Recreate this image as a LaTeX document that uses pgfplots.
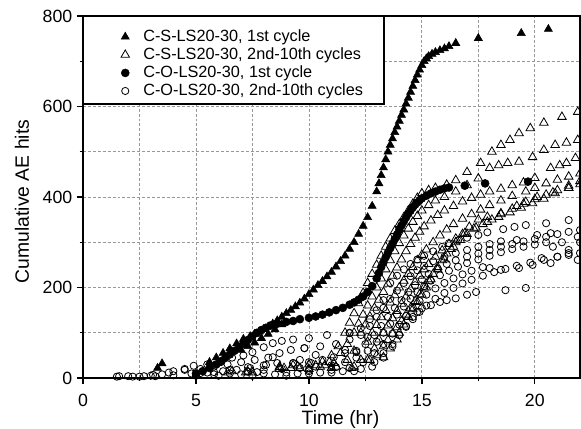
\documentclass[border=0pt]{standalone}
\usepackage{pgfplots}
\pgfplotsset{compat=1.18}
\usepackage{fontspec}
\setmainfont{Liberation Sans}
\newcommand{\tkfont}{\fontsize{13.3}{15}\selectfont}
\newcommand{\lbfont}{\fontsize{14.5}{17}\selectfont}
\newcommand{\lgfont}{\fontsize{12.2}{14}\selectfont}
\pgfplotsset{
  limg/.style={legend image code/.code={\path[use as bounding box, draw=none, fill=none] (-15pt,-4pt) rectangle (13.5pt,4pt); \draw[##1] plot coordinates {(0pt,0pt)};}},
  trif/.style={only marks, mark=triangle*, mark size=3.5pt, mark options={fill=black, draw=black, line width=0.4pt}, limg},
  trio/.style={only marks, mark=triangle, mark size=3.7pt, mark options={draw=black, line width=0.6pt}, limg},
  cirf/.style={only marks, mark=*, mark size=3pt, mark options={fill=black, draw=black, line width=0.4pt}, limg},
  ciro/.style={only marks, mark=o, mark size=2.7pt, mark options={draw=black, line width=0.6pt}, limg},
}
\begin{document}
\begin{tikzpicture}
\begin{axis}[
  scale only axis, width=372.75pt, height=271.5pt,
  xmin=0, xmax=22, ymin=0, ymax=800,
  xtick={0,5,10,15,20}, minor xtick={2.5,7.5,12.5,17.5},
  ytick={0,200,400,600,800}, minor ytick={100,300,500,700},
  tick pos=left, tick align=outside,
  major tick length=4.5pt, minor tick length=2.5pt,
  every tick/.style={black, line width=1pt},
  axis line style={line width=1.1pt},
  grid=both,
  major grid style={gray!80, dash pattern=on 2.2pt off 1.5pt, line width=0.55pt},
  minor grid style={gray!80, dash pattern=on 2.2pt off 1.5pt, line width=0.55pt},
  /pgf/number format/assume math mode=true,
  tick label style={font=\tkfont},
  xticklabel style={anchor=base, inner sep=0pt, yshift=-17pt},
  xlabel={Time (hr)},
  xlabel style={font=\lbfont, at={(axis description cs:0.5,0)}, anchor=base, inner sep=0pt, text height=10.4pt, text depth=0pt, yshift=-35pt, xshift=6.75pt},
  ylabel={Cumulative AE hits},
  ylabel style={font=\lbfont, at={([xshift=-40.5pt,yshift=-3.4pt]axis description cs:0,0.5)}, anchor=base},
  legend cell align=left,
  legend style={at={(rel axis cs:0,1)}, anchor=north west, yshift=-5.25pt, draw=none, fill=none,
    inner xsep=16.5pt, inner ysep=5pt, row sep=3.2pt, nodes={inner sep=0pt}, font=\lgfont},
]
\fill[white] (axis cs:0,800) rectangle (axis cs:13.32,605.5);
% C-S-LS20-30, 1st cycle
\addplot[trif] coordinates {
(3.3,22)(3.5,32)(5.6,35)(5.9,45)(6.2,55)(6.5,65)(6.8,76)(7.1,86)(7.4,92)(7.6,97)(7.8,102)(8.0,108)(8.2,113)(8.4,120)(8.6,127)(8.8,135)(9.0,143)(9.2,150)(9.4,158)(9.6,166)(9.8,175)(10.0,185)(10.2,195)(10.4,205)(10.6,214)(10.8,224)(11.0,234)(11.2,246)(11.4,258)(11.6,270)(11.8,285)(12.0,300)(12.2,318)(12.4,336)(12.6,355)(12.8,380)(13.0,412)(13.1,430)(13.2,448)(13.3,465)(13.4,483)(13.5,500)(13.6,515)(13.7,529)(13.8,543)(13.9,555)(14.0,568)(14.1,581)(14.2,593)(14.3,606)(14.4,619)(14.5,632)(14.6,645)(14.7,658)(14.8,670)(14.9,681)(15.0,691)(15.1,700)(15.2,706)(15.3,711)(15.45,716)(15.6,720)(15.8,724)(16.0,728)(16.2,733)(16.5,740)(17.5,751)(19.4,762)(20.6,771)
(7.0,62)(7.3,70)(7.6,78)(7.9,88)(8.2,97)(8.5,107)(8.8,118)
};
\addlegendentry{C-S-LS20-30, 1st cycle}
% C-S-LS20-30, 2nd-10th cycles
\addplot[trio] coordinates {
(6.4,12)(7.3,14)(8.7,24)(9.3,28)(10.0,30)(10.6,36)(11.0,50)(11.3,70)(11.6,100)(11.8,122)(12.0,143)(12.2,165)(12.4,188)(12.6,210)(12.8,230)(13.0,250)(13.2,270)(13.4,290)(13.6,308)(13.8,325)(14.0,340)(14.2,355)(14.4,370)(14.6,385)(14.8,398)(15.0,408)(15.3,415)(15.6,420)(16.1,427)(16.5,437)(17.0,455)(17.6,475)(18.1,500)(18.5,515)(18.9,526)(19.3,541)(19.8,552)(20.4,564)(21.2,577)(21.9,588)
(6.6,15)(7.5,12)(8.9,22)(9.5,26)(10.3,28)(10.9,35)(11.4,55)(11.7,75)(12.0,100)(12.2,120)(12.4,140)(12.6,160)(12.8,180)(13.0,200)(13.2,220)(13.4,240)(13.6,260)(13.8,280)(14.0,298)(14.2,315)(14.4,330)(14.6,345)(14.8,358)(15.0,370)(15.3,382)(15.6,392)(16.0,400)(16.5,412)(17.0,426)(17.5,441)(18.0,464)(18.4,470)(18.8,475)(19.3,478)(19.9,488)(20.4,504)(20.9,515)(21.4,520)(21.9,526)
(7.2,12)(8.7,20)(9.6,22)(10.5,25)(11.1,33)(11.7,40)(12.0,60)(12.3,100)(12.5,118)(12.7,136)(12.9,155)(13.1,173)(13.3,190)(13.5,208)(13.7,226)(13.9,244)(14.1,262)(14.3,280)(14.5,296)(14.7,310)(14.9,323)(15.1,335)(15.4,348)(15.7,360)(16.0,370)(16.4,380)(16.8,390)(17.2,398)(17.6,405)(18.0,412)(18.5,418)(19.0,426)(19.5,432)(20.0,442)(20.7,464)(21.1,470)(21.4,475)(21.8,486)
(9.2,22)(10.7,28)(11.2,25)(11.9,22)(12.3,40)(12.6,80)(12.8,100)(13.0,117)(13.2,134)(13.4,150)(13.6,167)(13.8,183)(14.0,200)(14.2,215)(14.4,230)(14.6,245)(14.8,260)(15.0,272)(15.2,284)(15.5,300)(15.8,315)(16.1,328)(16.4,340)(16.8,352)(17.2,362)(17.6,372)(18.0,382)(18.5,392)(19.0,402)(19.6,412)(20.0,420)(20.5,430)(21.0,438)(21.5,445)(22.0,452)
(8.7,25)(10.0,20)(11.0,22)(12.0,25)(12.6,40)(12.9,65)(13.1,85)(13.3,100)(13.5,116)(13.7,132)(13.9,148)(14.1,164)(14.3,180)(14.5,196)(14.7,212)(14.9,226)(15.1,240)(15.3,252)(15.6,268)(15.9,282)(16.2,296)(16.5,308)(16.9,320)(17.3,330)(17.7,340)(18.1,350)(18.5,362)(19.0,374)(19.5,385)(20.0,395)(20.5,405)(21.0,415)(21.5,425)(22.0,435)
(12.7,40)(13.0,50)(13.3,70)(13.5,84)(13.7,98)(13.9,112)(14.1,126)(14.3,140)(14.5,155)(14.7,170)(14.9,185)(15.1,200)(15.3,215)(15.5,230)(15.7,245)(15.9,260)(16.1,275)(16.4,290)(16.7,305)(17.0,318)(17.4,332)(17.9,345)(18.4,356)(18.9,366)(19.4,376)(19.9,386)(20.4,396)(20.9,408)(21.5,420)(22.0,428)
(13.3,46)(13.6,65)(13.9,85)(14.0,100)(14.2,118)(14.4,135)(14.6,152)(14.8,168)(15.0,184)(15.2,200)(15.4,218)(15.7,240)(16.0,262)(16.3,285)(16.5,300)(16.8,318)(17.1,334)(17.5,350)(17.9,356)(18.5,364)(19.2,380)(19.6,389)(20.1,400)(20.8,410)(21.5,420)
};
\addlegendentry{C-S-LS20-30, 2nd-10th cycles}
% C-O-LS20-30, 1st cycle
\addplot[cirf] coordinates {
(5.0,10)(5.3,15)(5.6,22)(5.9,30)(6.1,37)(6.3,45)(6.5,52)(6.7,60)(6.9,68)(7.1,76)(7.3,84)(7.5,92)(7.7,100)(7.9,106)(8.1,111)(8.3,116)(8.6,120)(9.0,124)(9.3,126)(9.6,130)(10.0,133)(10.3,136)(10.6,140)(10.9,145)(11.2,150)(11.5,155)(11.8,162)(12.0,167)(12.2,173)(12.4,180)(12.6,190)(12.8,203)(13.0,220)(13.1,232)(13.2,245)(13.3,256)(13.4,267)(13.5,277)(13.6,287)(13.7,297)(13.8,307)(13.9,317)(14.0,327)(14.1,337)(14.2,346)(14.3,355)(14.4,363)(14.5,370)(14.6,377)(14.7,383)(14.8,388)(14.9,393)(15.0,397)(15.2,403)(15.4,408)(15.6,412)(15.8,416)(16.0,419)(16.2,421)(16.9,425)(17.8,430)(19.7,434)
};
\addlegendentry{C-O-LS20-30, 1st cycle}
% C-O-LS20-30, 2nd-10th cycles
\addplot[ciro] coordinates {
(1.5,3)(2.0,4)(2.7,4)(3.1,7)(3.5,8)(4.0,15)(4.5,20)(4.9,27)(5.5,30)(6.1,35)(6.6,45)(7.1,50)(7.5,57)(8.0,68)(8.4,77)(8.8,82)(9.3,85)(10.0,88)(10.8,95)(11.8,100)(12.3,110)(12.7,130)(13.0,150)(13.3,172)(13.6,210)(13.9,226)(14.2,240)(14.5,252)(14.8,262)(15.1,270)(15.5,280)(15.9,290)(16.2,298)(16.6,304)(17.0,310)(17.5,316)(17.9,322)(18.6,329)(19.1,334)(19.6,338)(20.5,342)(21.5,349)
(1.6,4)(2.2,3)(3.0,5)(3.8,12)(4.5,18)(5.2,20)(5.8,25)(6.4,30)(7.0,35)(7.6,40)(8.2,45)(8.7,55)(9.2,62)(9.8,66)(10.5,70)(11.2,75)(11.8,85)(12.3,95)(12.7,115)(13.0,135)(13.3,155)(13.6,175)(13.9,193)(14.2,210)(14.5,225)(14.8,238)(15.1,248)(15.5,258)(16.0,268)(16.5,276)(17.0,283)(17.5,290)(18.0,296)(18.5,302)(19.2,305)(20.1,316)(20.7,320)(21.2,300)(21.9,312)
(2.5,3)(3.2,4)(4.0,6)(4.8,10)(5.5,12)(6.2,15)(6.8,18)(7.4,22)(8.0,28)(8.6,33)(9.3,33)(10.0,35)(10.6,40)(11.1,46)(11.6,55)(12.1,60)(12.5,75)(12.9,95)(13.2,115)(13.5,135)(13.8,155)(14.1,172)(14.4,190)(14.7,205)(15.0,218)(15.3,230)(15.7,242)(16.1,252)(16.5,260)(17.0,268)(17.5,275)(18.0,283)(18.5,290)(19.0,296)(19.5,302)(20.0,307)(20.5,312)(21.0,318)(21.5,323)(22.0,327)
(5.0,5)(5.8,8)(6.5,10)(7.3,14)(8.0,18)(8.8,20)(9.6,22)(10.3,25)(11.0,28)(11.6,35)(12.1,45)(12.6,60)(13.0,80)(13.3,100)(13.6,120)(13.9,140)(14.2,158)(14.5,175)(14.8,190)(15.1,203)(15.4,215)(15.8,227)(16.2,237)(16.6,246)(17.0,254)(17.5,262)(18.0,270)(18.5,278)(19.0,285)(19.5,290)(20.0,295)(20.5,300)(20.8,290)(21.5,283)(22.0,300)
(6.0,5)(7.0,8)(8.0,10)(9.0,12)(10.0,15)(11.0,18)(11.8,22)(12.4,35)(12.9,55)(13.3,75)(13.7,98)(14.0,118)(14.3,137)(14.6,155)(14.9,170)(15.2,184)(15.6,198)(16.0,210)(16.4,220)(16.8,229)(17.2,237)(17.7,245)(18.0,243)(18.5,239)(19.3,243)(19.9,250)(20.4,261)(21.0,268)(21.5,276)(21.9,261)
(7.5,5)(8.5,8)(9.5,10)(10.5,12)(11.5,15)(12.3,20)(12.9,35)(13.3,55)(13.7,75)(14.0,95)(14.3,113)(14.6,130)(14.9,146)(15.2,160)(15.6,175)(16.0,188)(16.4,199)(16.8,209)(17.2,217)(17.7,226)(18.2,234)(18.7,241)(19.2,248)(19.8,255)(20.3,265)(20.7,254)(21.0,268)(21.5,272)(22.0,276)
(9.0,5)(10.0,10)(11.0,12)(12.0,15)(12.8,25)(13.3,45)(13.7,70)(14.0,95)(14.3,115)(14.6,135)(14.8,146)(15.0,154)(15.4,161)(15.8,168)(16.1,172)(16.5,176)(17.0,184)(17.4,190)(18.7,194)(19.6,199)
(5.2,11)(5.8,13)(6.5,18)(7.3,24)(7.7,13)(8.1,29)(8.4,46)(9.6,40)(10.1,33)(10.3,51)(11.2,24)(10.0,18)(9.3,33)(11.6,62)(12.1,57)(12.6,91)(11.8,99)(9.8,66)
};
\addlegendentry{C-O-LS20-30, 2nd-10th cycles}
\end{axis}
\draw[line width=0.8pt, black] (0pt,271.5pt) rectangle (225.75pt,205.5pt);
\pgfresetboundingbox
\path[use as bounding box] (-62.25pt,-37.5pt) rectangle (373.5pt,283.5pt);
\end{tikzpicture}
\end{document}
